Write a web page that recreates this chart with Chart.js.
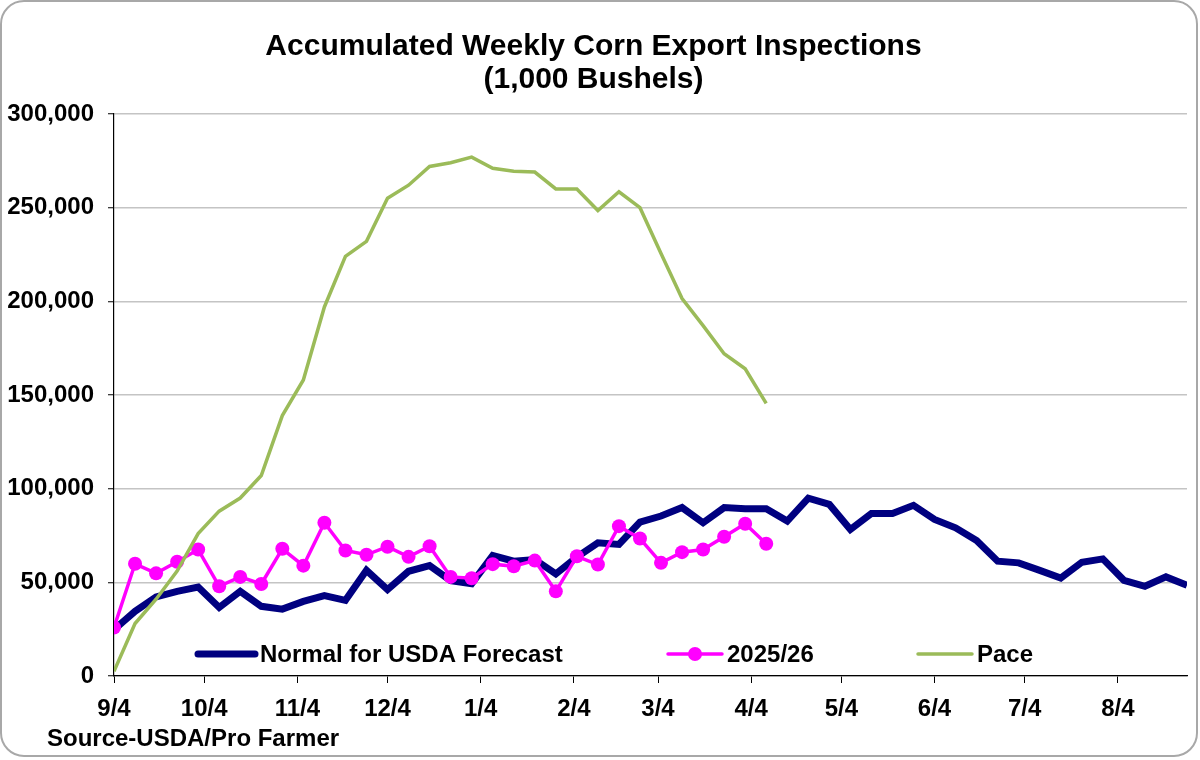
<!DOCTYPE html>
<html>
<head>
<meta charset="utf-8">
<title>Accumulated Weekly Corn Export Inspections</title>
<script src="https://cdn.jsdelivr.net/npm/chart.js@4.4.1/dist/chart.umd.min.js"></script>
<style>
  html, body { margin: 0; padding: 0; background: #fff; }
  #wrap { position: relative; width: 1200px; height: 760px; }
  #frame {
    position: absolute; left: 0; top: 0; width: 1198px; height: 757px;
    box-sizing: border-box; border: 2px solid #a8a8a8; border-radius: 24px;
    pointer-events: none;
  }
  #source {
    position: absolute; left: 47px; top: 724px;
    font: bold 24px "Liberation Sans", Arial, sans-serif; color: #000;
  }
</style>
</head>
<body>
<div id="wrap">
  <canvas id="chart" width="1200" height="760"></canvas>
  <div id="source">Source-USDA/Pro Farmer</div>
  <div id="frame"></div>
</div>
<script>
// ---- data (1,000 bushels, one value per week starting 9/4) ----
const DAYS_PER_WEEK = 7;
const monthTickDays   = [0, 30, 61, 91, 122, 153, 181, 212, 242, 273, 303, 334];
const monthTickLabels = ['9/4', '10/4', '11/4', '12/4', '1/4', '2/4', '3/4', '4/4', '5/4', '6/4', '7/4', '8/4'];
const seasonEndDay = 357;

const seriesNames = ['Normal for USDA Forecast', '2025/26', 'Pace'];

const normalValues = [
  24700, 34500, 42200, 45200, 47500, 36600, 45200, 37200, 35700, 39800,
  42900, 40400, 56400, 46100, 55900, 58900, 50900, 49300, 64300, 61300,
  62200, 54500, 63500, 71100, 70200, 82200, 85400, 89900, 81800, 89900,
  89300, 89300, 82700, 94900, 91600, 78200, 86700, 86700, 91100, 83600,
  79100, 72300, 61300, 60400, 56400, 52300, 60700, 62500, 51100, 47900,
  52900, 48400
];

const currentValues = [
  25900, 59900, 54800, 61000, 67500, 47900, 52900, 49100, 67900, 58900,
  81800, 67000, 64700, 69000, 63600, 69300, 52900, 52200, 59700, 58600,
  61600, 45200, 63900, 59500, 80000, 73400, 60400, 66100, 67500, 74300,
  81300, 70600
];

const paceValues = [
  2500, 28000, 41000, 56000, 76000, 88000, 95000, 107000, 139000, 158000,
  197000, 224000, 232000, 255000, 262000, 272000, 274000, 277000, 271000, 269500,
  269000, 260000, 260000, 248500, 258500, 250000, 225500, 201500, 187000, 172000,
  164000, 145500
];

const FONT = '"Liberation Sans", Arial, sans-serif';

const toPoints = vals => vals.map((v, i) => ({ x: i * DAYS_PER_WEEK, y: v }));

// legend drawn inside the plot area, near the bottom
const insideLegend = {
  id: 'insideLegend',
  afterDatasetsDraw(chart, args, opts) {
    const ctx = chart.ctx;
    const y = chart.chartArea.bottom - opts.offsetY;
    ctx.save();
    ctx.font = 'bold 24px ' + FONT;
    ctx.textBaseline = 'middle';
    opts.items.forEach(item => {
      const ds = chart.data.datasets[item.dataset];
      ctx.strokeStyle = ds.borderColor;
      ctx.lineWidth = ds.borderWidth;
      ctx.lineCap = 'round';
      ctx.beginPath();
      ctx.moveTo(item.x, y);
      ctx.lineTo(item.x + item.w, y);
      ctx.stroke();
      if (ds.pointRadius) {
        ctx.fillStyle = ds.pointBackgroundColor;
        ctx.beginPath();
        ctx.arc(item.x + item.w / 2, y, ds.pointRadius, 0, Math.PI * 2);
        ctx.fill();
      }
      ctx.fillStyle = '#000';
      ctx.fillText(ds.label, item.x + item.w + 5, y + 1);
    });
    ctx.restore();
  }
};

new Chart(document.getElementById('chart'), {
  type: 'line',
  data: {
    datasets: [
      {
        label: seriesNames[0], data: toPoints(normalValues),
        borderColor: '#000080', borderWidth: 7, pointRadius: 0, order: 3
      },
      {
        label: seriesNames[1], data: toPoints(currentValues),
        borderColor: '#ff00ff', borderWidth: 3.5, pointRadius: 7,
        pointBackgroundColor: '#ff00ff', pointBorderWidth: 0, order: 2
      },
      {
        label: seriesNames[2], data: toPoints(paceValues),
        borderColor: '#9bbb59', borderWidth: 3.5, pointRadius: 0, order: 1
      }
    ]
  },
  options: {
    responsive: false,
    animation: false,
    layout: { padding: { left: 0, right: 13, top: 0, bottom: 44 } },
    plugins: {
      legend: { display: false },
      tooltip: { enabled: false },
      title: {
        display: true,
        text: ['Accumulated Weekly Corn Export Inspections', '(1,000 Bushels)'],
        color: '#000',
        font: { family: FONT, size: 30, weight: 'bold', lineHeight: 1.1 },
        padding: { top: 30, bottom: 18 }
      },
      insideLegend: {
        offsetY: 22,
        items: [
          { dataset: 0, x: 198, w: 57 },
          { dataset: 1, x: 668, w: 54 },
          { dataset: 2, x: 918, w: 54 }
        ]
      }
    },
    scales: {
      x: {
        type: 'linear',
        min: 0,
        max: seasonEndDay,
        afterBuildTicks: scale => { scale.ticks = monthTickDays.map(v => ({ value: v })); },
        afterFit: scale => { scale.height = 40; },
        ticks: {
          autoSkip: false, maxRotation: 0, padding: 12, color: '#000',
          font: { family: FONT, size: 24, weight: 'bold' },
          callback: (value, index) => monthTickLabels[index]
        },
        grid: { drawOnChartArea: false, drawTicks: true, tickLength: 7, tickColor: '#000', tickWidth: 1 },
        border: { display: true, color: '#000', width: 1.2 }
      },
      y: {
        min: 0,
        max: 300000,
        afterFit: scale => { scale.width = 114; },
        ticks: {
          stepSize: 50000, padding: 14, color: '#000',
          font: { family: FONT, size: 24, weight: 'bold' },
          callback: v => v.toLocaleString('en-US')
        },
        grid: { color: '#c4c4c4', lineWidth: 1.5, tickLength: 6, tickColor: '#000', tickWidth: 1 },
        border: { display: true, color: '#000', width: 1.2 }
      }
    }
  },
  plugins: [insideLegend]
});
</script>
</body>
</html>
